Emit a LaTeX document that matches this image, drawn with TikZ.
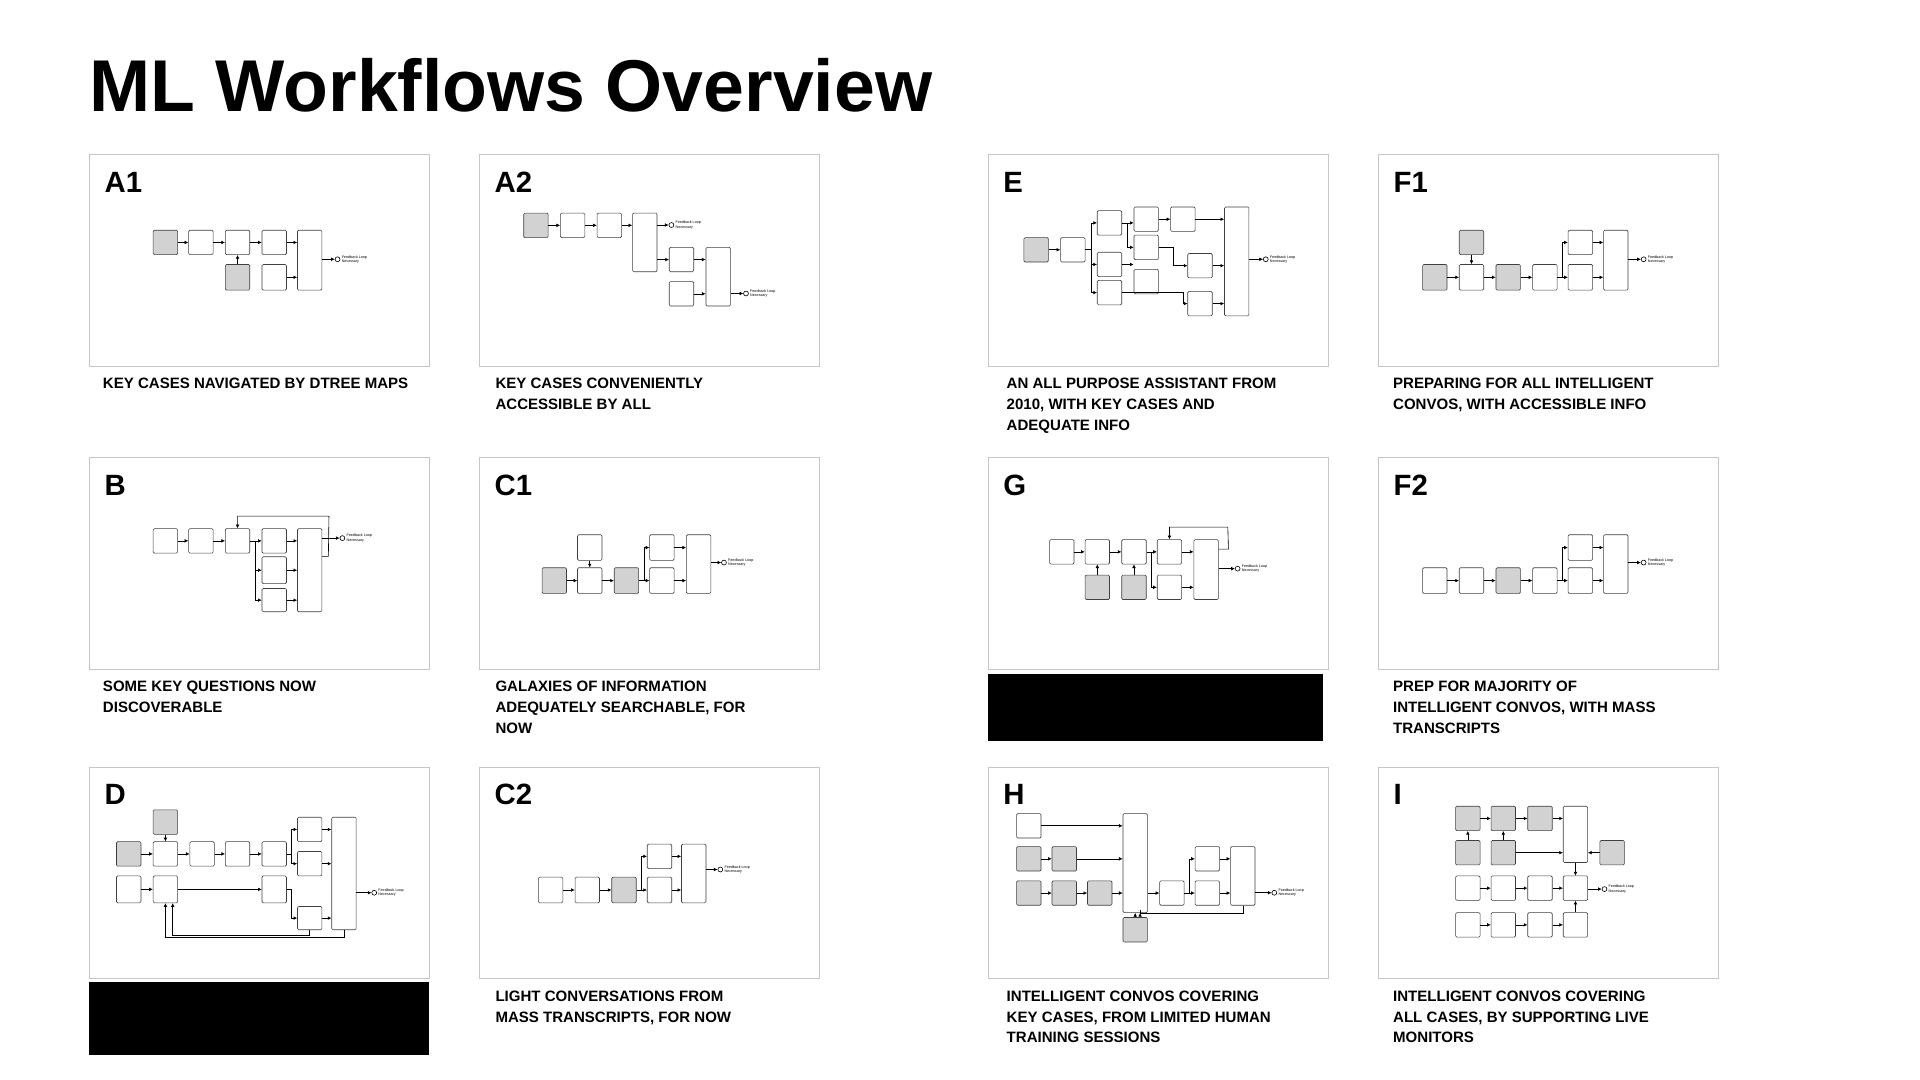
\documentclass[tikz,border=0pt]{standalone}
\usepackage{fontspec}
\setmainfont{Liberation Sans}
\usetikzlibrary{arrows.meta}
\tikzset{
 panel/.style={draw=gray!45,line width=0.8pt,fill=white},
 mb/.style={draw=black!75,line width=0.5pt,rounded corners=1pt,fill=white,minimum width=20pt,inner sep=0pt,anchor=north west},
 gbx/.style={mb,fill=gray!35},
 arr/.style={-{Latex[length=3pt,width=3pt]},line width=0.5pt},
 outc/.style={circle,draw,line width=0.5pt,minimum size=4pt,inner sep=0pt},
 plab/.style={font=\bfseries\fontsize{24}{24}\selectfont,anchor=base west},
 captxt/.style={font=\bfseries\fontsize{12.3}{17}\selectfont,anchor=north west,align=left,inner sep=0pt}
}
\newcommand{\bx}[5]{\node[#5,minimum height=#4pt] (#1) at (#2,#3) {};}
\newcommand{\ar}[2]{\draw[arr] (#1.east) -- (#1.east -| #2.west);}
\newcommand{\outp}[3]{\node[outc] (#1) at (#2,#3) {};\node[anchor=west,inner sep=1pt,font=\fontsize{3}{3.5}\selectfont,align=left] (#1t) at (#1.east) {Feedback Loop\\Necessary};}
\begin{document}
\begin{tikzpicture}[x=1pt,y=-1pt]
\useasboundingbox[fill=white] (0,0) rectangle (1570,883);
\node[font=\bfseries\fontsize{60}{60}\selectfont,anchor=base west,inner sep=0pt] (title) at (73,91) {ML Workflows Overview};
% panels
\foreach \x/\y/\l/\n in {73/126/A1/pa1,392/126/A2/pa2,808/126/E/pe,1127/126/F1/pf1,
 73/374/B/pb,392/374/C1/pc1,808/374/G/pg,1127/374/F2/pf2,
 73/627/D/pd,392/627/C2/pc2,808/627/H/ph,1127/627/I/pi}{
 \node[panel,anchor=north west,minimum width=278pt,minimum height=173pt,inner sep=0pt] (\n) at (\x,\y) {};
 \node[plab] (\n l) at (\x+9,\y+31) {\l};
}
% captions
\node[captxt] (ca1) at (84,309) {KEY CASES NAVIGATED BY DTREE MAPS};
\node[captxt] (ca2) at (405,309) {KEY CASES CONVENIENTLY\\ACCESSIBLE BY ALL};
\node[captxt] (ce) at (823,309) {AN ALL PURPOSE ASSISTANT FROM\\2010, WITH KEY CASES AND\\ADEQUATE INFO};
\node[captxt] (cf1) at (1139,309) {PREPARING FOR ALL INTELLIGENT\\CONVOS, WITH ACCESSIBLE INFO};
\node[captxt] (cb) at (84,557) {SOME KEY QUESTIONS NOW\\DISCOVERABLE};
\node[captxt] (cc1) at (405,557) {GALAXIES OF INFORMATION\\ADEQUATELY SEARCHABLE, FOR\\NOW};
\fill (808,551) rectangle (1082,606);
\node[captxt] (cf2) at (1139,557) {PREP FOR MAJORITY OF\\INTELLIGENT CONVOS, WITH MASS\\TRANSCRIPTS};
\fill (73,803) rectangle (351,863);
\node[captxt] (cc2) at (405,810) {LIGHT CONVERSATIONS FROM\\MASS TRANSCRIPTS, FOR NOW};
\node[captxt] (ch) at (823,810) {INTELLIGENT CONVOS COVERING\\KEY CASES, FROM LIMITED HUMAN\\TRAINING SESSIONS};
\node[captxt] (ci) at (1139,810) {INTELLIGENT CONVOS COVERING\\ALL CASES, BY SUPPORTING LIVE\\MONITORS};
% A1
\bx{a1a}{125}{188}{20}{gbx}\bx{a1b}{154}{188}{20}{mb}\bx{a1c}{184}{188}{20}{mb}\bx{a1d}{214}{188}{20}{mb}
\bx{a1e}{243}{188}{49}{mb}\bx{a1f}{184}{216}{21}{gbx}\bx{a1g}{214}{216}{21}{mb}
\ar{a1a}{a1b}\ar{a1b}{a1c}\ar{a1c}{a1d}\ar{a1d}{a1e}\ar{a1g}{a1e}
\draw[arr] (a1f.north) -- (a1c.south);
\outp{a1o}{276}{212}\draw[arr] (a1e.east|-a1o) -- (a1o.west);
% A2
\bx{a2a}{428}{174}{20}{gbx}\bx{a2b}{458}{174}{20}{mb}\bx{a2c}{488}{174}{20}{mb}\bx{a2d}{517}{174}{48}{mb}
\bx{a2e}{547}{202}{20}{mb}\bx{a2f}{577}{202}{48}{mb}\bx{a2g}{547}{230}{20}{mb}
\ar{a2a}{a2b}\ar{a2b}{a2c}\ar{a2c}{a2d}\ar{a2e}{a2f}\ar{a2g}{a2f}
\draw[arr] (a2d.east|-a2e) -- (a2e.west);
\outp{a2o}{549}{184}\draw[arr] (a2d.east|-a2o) -- (a2o.west);
\outp{a2p}{610}{240}\draw[arr] (a2f.east|-a2p) -- (a2p.west);
% E
\bx{ea}{837}{194}{20}{gbx}\bx{eb}{867}{194}{20}{mb}\bx{ec}{897}{172}{20}{mb}\bx{ed}{897}{206}{20}{mb}\bx{ee}{897}{229}{20}{mb}
\bx{ef}{927}{169}{20}{mb}\bx{eg}{927}{192}{20}{mb}\bx{eh}{927}{220}{20}{mb}\bx{ei}{957}{169}{20}{mb}
\bx{ej}{971}{207}{20}{mb}\bx{ek}{971}{238}{20}{mb}\bx{el}{1001}{169}{89}{mb}
\ar{ea}{eb}\draw[arr] (eb.east) -- ++(5,0) |- (ec.west);\draw[arr] (eb.east) -- ++(5,0) |- (ed.west);\draw[arr] (eb.east) -- ++(5,0) |- (ee.west);
\ar{ec}{ef}\draw[arr] (ec.east) -- ++(4,0) |- (eg.west);\ar{ed}{eh}\ar{ef}{ei}\ar{ei}{el}\ar{ej}{el}\ar{ek}{el}
\draw[arr] (eg.east) -- ++(12,0) |- (ej.west);\draw[arr] (ee.east) -- ++(50,0) |- (ek.west);
\outp{eo}{1035}{212}\draw[arr] (el.east|-eo) -- (eo.west);
% F1
\bx{f1a}{1163}{216}{21}{gbx}\bx{f1b}{1193}{188}{20}{gbx}\bx{f1c}{1193}{216}{21}{mb}\bx{f1d}{1223}{216}{21}{gbx}
\bx{f1e}{1253}{216}{21}{mb}\bx{f1f}{1282}{188}{20}{mb}\bx{f1g}{1282}{216}{21}{mb}\bx{f1h}{1311}{188}{49}{mb}
\ar{f1a}{f1c}\ar{f1c}{f1d}\ar{f1d}{f1e}\ar{f1e}{f1g}\ar{f1f}{f1h}\ar{f1g}{f1h}
\draw[arr] (f1b.south) -- (f1c.north);\draw[arr] (f1e.east) -- ++(4,0) |- (f1f.west);
\outp{f1o}{1344}{212}\draw[arr] (f1h.east|-f1o) -- (f1o.west);
% B
\bx{ba}{125}{432}{20}{mb}\bx{bb}{154}{432}{20}{mb}\bx{bc}{184}{432}{20}{mb}\bx{bd}{214}{432}{20}{mb}
\bx{be}{243}{432}{68}{mb}\bx{bf}{214}{455}{22}{mb}\bx{bg}{214}{481}{19}{mb}
\ar{ba}{bb}\ar{bb}{bc}\ar{bc}{bd}\ar{bd}{be}\ar{bf}{be}\ar{bg}{be}
\draw[arr] (be.east|-bf.north) -- ++(5,0) -- (269,422) -| (bc.north);
\draw[arr] (bc.east) -- ++(4,0) |- (bf.west);\draw[arr] (bc.east) -- ++(4,0) |- (bg.west);
\outp{bo}{280}{440}\draw[arr] (be.east|-bo) -- (bo.west);
% C1
\bx{c1a}{443}{464}{21}{gbx}\bx{c1b}{472}{464}{21}{mb}\bx{c1c}{472}{437}{21}{mb}\bx{c1d}{502}{464}{21}{gbx}
\bx{c1e}{531}{437}{21}{mb}\bx{c1f}{531}{464}{21}{mb}\bx{c1g}{561}{437}{48}{mb}
\ar{c1a}{c1b}\ar{c1b}{c1d}\ar{c1d}{c1f}\ar{c1e}{c1g}\ar{c1f}{c1g}
\draw[arr] (c1c.south) -- (c1b.north);\draw[arr] (c1d.east) -- ++(4,0) |- (c1e.west);
\outp{c1o}{592}{460}\draw[arr] (c1g.east|-c1o) -- (c1o.west);
% G
\bx{ga}{858}{441}{20}{mb}\bx{gb}{887}{441}{20}{mb}\bx{gc}{887}{470}{20}{gbx}\bx{gd}{917}{441}{20}{mb}\bx{ge}{917}{470}{20}{gbx}
\bx{gf}{946}{441}{20}{mb}\bx{gg}{946}{470}{20}{mb}\bx{gh}{976}{441}{49}{mb}
\ar{ga}{gb}\ar{gb}{gd}\ar{gd}{gf}\ar{gf}{gh}\ar{gg}{gh}
\draw[arr] (gc.north) -- (gb.south);\draw[arr] (ge.north) -- (gd.south);\draw[arr] (gd.east) -- ++(4,0) |- (gg.west);
\draw[arr] (gh.east|-gh.north) ++(0,8) -- ++(8,0) -- (1004,431) -| (gf.north);
\outp{go}{1012}{465}\draw[arr] (gh.east|-go) -- (go.west);
% F2
\bx{f2a}{1163}{464}{21}{mb}\bx{f2b}{1193}{464}{21}{mb}\bx{f2c}{1223}{464}{21}{gbx}\bx{f2d}{1253}{464}{21}{mb}
\bx{f2e}{1282}{437}{21}{mb}\bx{f2f}{1282}{464}{21}{mb}\bx{f2g}{1311}{437}{48}{mb}
\ar{f2a}{f2b}\ar{f2b}{f2c}\ar{f2c}{f2d}\ar{f2d}{f2f}\ar{f2e}{f2g}\ar{f2f}{f2g}
\draw[arr] (f2d.east) -- ++(4,0) |- (f2e.west);
\outp{f2o}{1344}{460}\draw[arr] (f2g.east|-f2o) -- (f2o.west);
% D
\bx{da}{95}{688}{20}{gbx}\bx{db}{125}{662}{20}{gbx}\bx{dc}{125}{688}{20}{mb}\bx{dd}{155}{688}{20}{mb}\bx{de}{184}{688}{20}{mb}
\bx{df}{214}{688}{20}{mb}\bx{dg}{243}{668}{20}{mb}\bx{dh}{243}{696}{20}{mb}\bx{di}{271}{668}{92}{mb}
\bx{dj}{95}{716}{22}{mb}\bx{dk}{125}{716}{22}{mb}\bx{dl}{214}{716}{22}{mb}\bx{dm}{243}{741}{19}{mb}
\ar{da}{dc}\ar{dc}{dd}\ar{dd}{de}\ar{de}{df}\ar{dg}{di}\ar{dh}{di}\ar{dm}{di}\ar{dj}{dk}\ar{dk}{dl}
\draw[arr] (db.south) -- (dc.north);\draw[arr] (df.east) -- ++(4,0) |- (dg.west);\draw[arr] (df.east) -- ++(4,0) |- (dh.west);
\draw[arr] (dl.east) -- ++(4,0) |- (dm.west);
\draw[arr] (di.south) -- ++(0,6) -| (dk.south);\draw[arr] (dm.south) -- ++(0,4) -| ([xshift=6pt]dk.south);
\outp{do}{306}{730}\draw[arr] (di.east|-do) -- (do.west);
% C2
\bx{c2a}{440}{717}{21}{mb}\bx{c2b}{470}{717}{21}{mb}\bx{c2c}{500}{717}{21}{gbx}\bx{c2d}{529}{717}{21}{mb}
\bx{c2e}{529}{690}{20}{mb}\bx{c2f}{557}{690}{48}{mb}
\ar{c2a}{c2b}\ar{c2b}{c2c}\ar{c2c}{c2d}\ar{c2d}{c2f}\ar{c2e}{c2f}
\draw[arr] (c2c.east) -- ++(4,0) |- (c2e.west);
\outp{c2o}{589}{711}\draw[arr] (c2f.east|-c2o) -- (c2o.west);
% H
\bx{ha}{831}{665}{20}{mb}\bx{hb}{831}{692}{20}{gbx}\bx{hc}{860}{692}{20}{gbx}\bx{hd}{831}{720}{20}{gbx}\bx{he}{860}{720}{20}{gbx}
\bx{hf}{889}{720}{20}{gbx}\bx{hg}{918}{665}{81}{mb}\bx{hh}{918}{750}{20}{gbx}\bx{hi}{948}{720}{20}{mb}\bx{hj}{977}{720}{20}{mb}
\bx{hk}{977}{692}{20}{mb}\bx{hl}{1006}{692}{48}{mb}
\ar{ha}{hg}\ar{hb}{hc}\ar{hc}{hg}\ar{hd}{he}\ar{he}{hf}\ar{hf}{hg}\ar{hi}{hj}\ar{hj}{hl}\ar{hk}{hl}
\draw[arr] (hh.north) -- (hg.south);\draw[arr] (hg.east|-hi) -- (hi.west);\draw[arr] (hi.east) -- ++(4,0) |- (hk.west);
\draw[arr] (hl.south) -- ++(0,6) -| ([xshift=4pt]hg.south);
\outp{ho}{1042}{730}\draw[arr] (hl.east|-ho) -- (ho.west);
% I
\bx{ia}{1190}{659}{20}{gbx}\bx{ib}{1219}{659}{20}{gbx}\bx{ic}{1249}{659}{20}{gbx}\bx{id}{1190}{687}{20}{gbx}\bx{ie}{1219}{687}{20}{gbx}
\bx{if}{1190}{716}{20}{mb}\bx{ig}{1219}{716}{20}{mb}\bx{ih}{1249}{716}{20}{mb}\bx{ii}{1190}{746}{20}{mb}\bx{ij}{1219}{746}{20}{mb}
\bx{ik}{1249}{746}{20}{mb}\bx{il}{1278}{659}{46}{mb}\bx{im}{1308}{687}{20}{gbx}\bx{in}{1278}{716}{20}{mb}\bx{io}{1278}{746}{20}{mb}
\ar{ia}{ib}\ar{ib}{ic}\ar{ic}{il}\ar{ie}{il}\ar{if}{ig}\ar{ig}{ih}\ar{ih}{in}\ar{ii}{ij}\ar{ij}{ik}\ar{ik}{io}
\draw[arr] (id.north) -- (ia.south);\draw[arr] (ie.north) -- (ib.south);\draw[arr] (im.west) -- (im.west-|il.east);
\draw[arr] (il.south) -- (in.north);\draw[arr] (io.north) -- (in.south);
\outp{io2}{1312}{727}\draw[arr] (in.east|-io2) -- (io2.west);
\end{tikzpicture}
\end{document}
